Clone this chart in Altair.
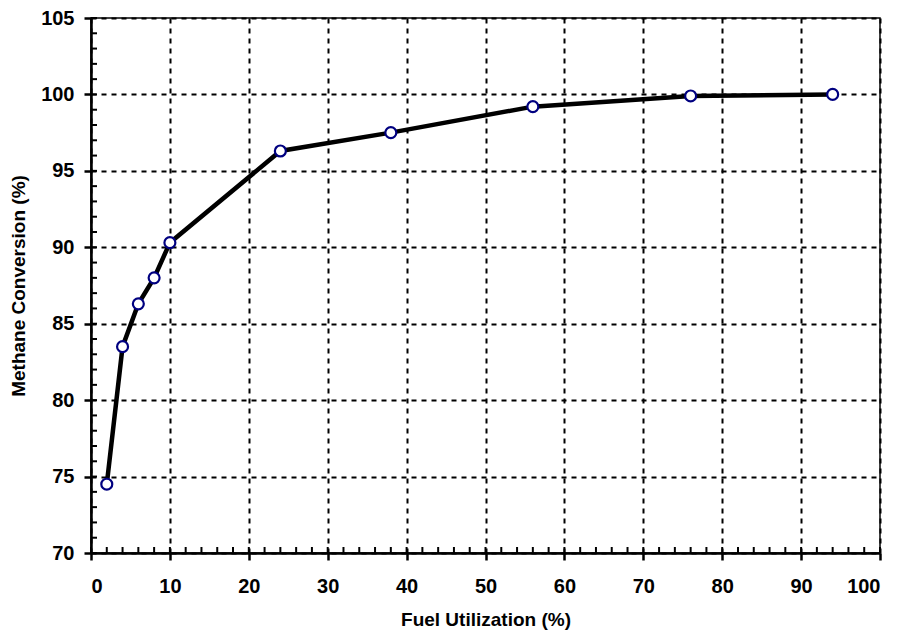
import altair as alt
import pandas as pd

fuel_util = [2, 4, 6, 8, 10, 24, 38, 56, 76, 94]
methane_conv = [74.5, 83.5, 86.3, 88.0, 90.3, 96.3, 97.5, 99.2, 99.9, 100.0]
x_major = list(range(0, 101, 10))
x_minor = list(range(0, 101, 2))
y_major = list(range(70, 106, 5))
y_minor = list(range(70, 106, 1))

W, H = 789, 535

df = pd.DataFrame({"fu": fuel_util, "mc": methane_conv})
dfx = pd.DataFrame({"fu": x_minor})
dfy = pd.DataFrame({"mc": y_minor})

FONT = "Liberation Sans"
xs = alt.Scale(domain=[0, 100], nice=False, zero=False)
ys = alt.Scale(domain=[70, 105], nice=False, zero=False)

x_main = alt.X("fu:Q", scale=xs, title="Fuel Utilization (%)",
               axis=alt.Axis(values=x_major, grid=True, gridColor="black", gridDash=[5, 5],
                             gridWidth=2, gridOpacity=1, tickSize=7, tickWidth=2.5, tickColor="black",
                             domainColor="black", domainWidth=2.5, labelFontSize=20, labelFont=FONT,
                             labelFontWeight="bold", labelColor="black", labelPadding=16,
                             titleFontSize=19, titleFont=FONT, titleFontWeight="bold",
                             titleColor="black", titlePadding=14, orient="bottom"))
y_main = alt.Y("mc:Q", scale=ys, title="Methane Conversion (%)",
               axis=alt.Axis(values=y_major, grid=True, gridColor="black", gridDash=[5, 5],
                             gridWidth=2, gridOpacity=1, tickSize=7, tickWidth=2.5, tickColor="black",
                             domainColor="black", domainWidth=2.5, labelFontSize=20, labelFont=FONT,
                             labelFontWeight="bold", labelColor="black", labelPadding=10,
                             titleFontSize=19, titleFont=FONT, titleFontWeight="bold",
                             titleColor="black", titlePadding=12, orient="left"))

line = alt.Chart(df).mark_line(color="black", strokeWidth=4.5).encode(x=x_main, y=y_main)
pts = alt.Chart(df).mark_point(shape="circle", filled=True, fill="white", stroke="#000080",
                               strokeWidth=2.2, size=120, opacity=1).encode(x="fu:Q", y="mc:Q")

# minor ticks pointing inward from the axes
xticks = alt.Chart(dfx).mark_rule(color="black", strokeWidth=2).encode(
    x=alt.X("fu:Q", scale=xs), y=alt.value(H - 6), y2=alt.value(H))
yticks = alt.Chart(dfy).mark_rule(color="black", strokeWidth=2).encode(
    y=alt.Y("mc:Q", scale=ys), x=alt.value(0), x2=alt.value(6))

chart = alt.layer(line, xticks, yticks, pts).properties(
    width=W, height=H,
    autosize=alt.AutoSizeParams(type="none"),
    padding={"left": 83, "top": 10, "right": 10, "bottom": 80},
).configure_view(stroke="black", strokeWidth=1.5)

chart.save("out.html", embed_options={"renderer": "svg", "actions": False})
